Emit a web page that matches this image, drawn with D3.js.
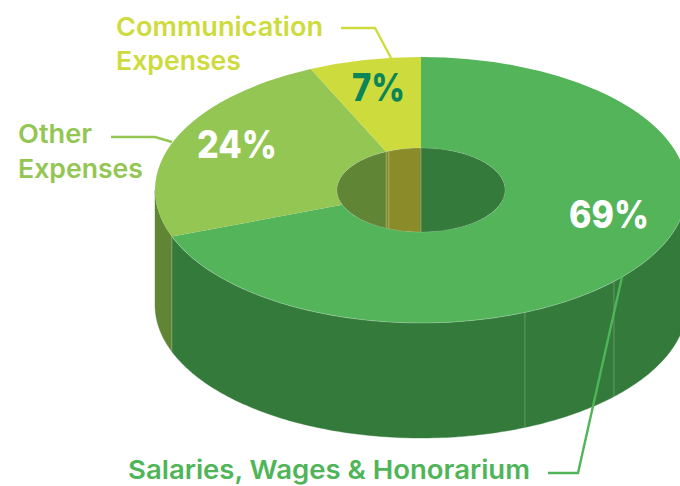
<!DOCTYPE html>
<html><head><meta charset="utf-8">
<script src="https://cdnjs.cloudflare.com/ajax/libs/d3/7.8.5/d3.min.js"></script>
<style>html,body{margin:0;padding:0;background:#fff}svg{display:block}text{font-family:Inter,Lato,sans-serif}</style>
</head><body><svg id="c" width="680" height="486"></svg>
<script>
const categories = ["Salaries, Wages & Honorarium","Other Expenses","Communication Expenses"];
const values = [69.3,23.9,6.8];
const pctLabels = ["69%","24%","7%"];
const topColors = ["#54B45A","#94C653","#CEDB3D"];
const wallColors = ["#337A3B","#5F8535","#8A8C2A"];
const labelColors = ["#4FB558","#93C653","#CEDB3D"];
const pctColors = ["#fff","#fff","#0B8557"];
const seamOuterDeg = [157,133.5];
const seamInnerDeg = [337.5];

const W=680,H=486,cx=421,cy=190,R=266,r=84,squash=.5,depth=115;
const svg=d3.select("#c");
const pie=d3.pie().sort(null).value(d=>d).startAngle(0).endAngle(2*Math.PI);
const arcs=pie(values);
const arcGen=d3.arc().innerRadius(r).outerRadius(R);
const px=(a,rad)=>cx+rad*Math.sin(a);
const py=(a,rad,dz=0)=>cy-rad*squash*Math.cos(a)+dz;
const toRad=d=>d*Math.PI/180;

function wallPath(a0,a1,rr){
  const n=Math.max(2,Math.ceil(Math.abs(a1-a0)*60));
  const ang=d3.range(n+1).map(i=>a0+(a1-a0)*i/n);
  const p=d3.path();
  ang.forEach((a,i)=>i?p.lineTo(px(a,rr),py(a,rr)):p.moveTo(px(a,rr),py(a,rr)));
  ang.slice().reverse().forEach(a=>p.lineTo(px(a,rr),py(a,rr,depth)));
  p.closePath();
  return p.toString();
}
const clampAngles=(a,lo,hi)=>[Math.max(a.startAngle,lo),Math.min(a.endAngle,hi)];
const seam="rgba(255,255,255,.4)";

// outer wall (front half)
const outerG=svg.append("g");
arcs.forEach((a,i)=>{
  const [s,e]=clampAngles(a,Math.PI/2,3*Math.PI/2);
  if(e>s) outerG.append("path").attr("d",wallPath(s,e,R)).attr("fill",wallColors[i]).attr("stroke",wallColors[i]).attr("stroke-width",.4);
});
[...seamOuterDeg.map(toRad),arcs[0].endAngle].forEach(a=>{
  outerG.append("line").attr("x1",px(a,R)).attr("x2",px(a,R)).attr("y1",py(a,R)).attr("y2",py(a,R,depth)).attr("stroke",seam).attr("stroke-width",.6);
});

// top faces
const topG=svg.append("g").attr("transform",`translate(${cx},${cy}) scale(1,${squash})`);
topG.selectAll("path").data(arcs).join("path").attr("d",arcGen).attr("fill",(d,i)=>topColors[i]);
// pale rim on the front edge
const rimA=d3.range(0,61).map(i=>Math.PI/2+(arcs[0].endAngle-Math.PI/2)*i/60);
svg.append("path").attr("d",d3.line()(rimA.map(a=>[px(a,R),py(a,R)]))).attr("fill","none").attr("stroke","rgba(255,255,255,.3)").attr("stroke-width",.8);

// hole interior
const defs=svg.append("defs");
defs.append("clipPath").attr("id","hole").append("ellipse").attr("cx",cx).attr("cy",cy).attr("rx",r).attr("ry",r*squash);
const innerG=svg.append("g").attr("clip-path","url(#hole)");
innerG.append("ellipse").attr("cx",cx).attr("cy",cy).attr("rx",r).attr("ry",r*squash).attr("fill",wallColors[0]);
const innerSegs=[[3*Math.PI/2,arcs[1].endAngle,1],[arcs[2].startAngle,2*Math.PI,2],[0,Math.PI/2,0]];
innerSegs.forEach(([s,e,i])=>innerG.append("path").attr("d",wallPath(s,e,r)).attr("fill",wallColors[i]).attr("stroke",wallColors[i]).attr("stroke-width",.4));
[arcs[2].startAngle,...seamInnerDeg.map(toRad),2*Math.PI-1e-4].forEach(a=>{
  innerG.append("line").attr("x1",px(a,r)).attr("x2",px(a,r)).attr("y1",py(a,r)).attr("y2",py(a,r,depth)).attr("stroke",seam).attr("stroke-width",.7);
});
svg.append("ellipse").attr("cx",cx).attr("cy",cy).attr("rx",r).attr("ry",r*squash).attr("fill","none").attr("stroke","rgba(255,255,255,.25)").attr("stroke-width",.6);

// leaders
const leaders=[[[622,277],[578,473],[548,473]],[[111,137],[155,137],[172,142]],[[341,28],[375,28],[391,58]]];
const lineGen=d3.line();
leaders.forEach((pts,i)=>svg.append("path").attr("d",lineGen(pts)).attr("fill","none").attr("stroke",labelColors[i]).attr("stroke-width",2.4));

// category labels
const labelRows=[
 {t:categories[0],x:128,y:479,c:0,w:402},
 {t:"Other",x:18,y:143,c:1,w:74},
 {t:"Expenses",x:18,y:178,c:1,w:125},
 {t:"Communication",x:116,y:36,c:2,w:207},
 {t:"Expenses",x:116,y:70,c:2,w:125}];
labelRows.forEach(d=>svg.append("text").text(d.t).attr("x",d.x).attr("y",d.y).attr("fill",labelColors[d.c])
  .attr("font-size",26).attr("font-weight",600).attr("textLength",d.w).attr("lengthAdjust","spacingAndGlyphs"));

// percentages
const pctPos=[[569,228,80],[197,158,80],[352,101,53]];
pctLabels.forEach((t,i)=>svg.append("text").text(t).attr("x",pctPos[i][0]).attr("y",pctPos[i][1]).attr("fill",pctColors[i])
  .attr("font-size",38).attr("font-weight",800).attr("textLength",pctPos[i][2]).attr("lengthAdjust","spacingAndGlyphs"));
</script></body></html>
